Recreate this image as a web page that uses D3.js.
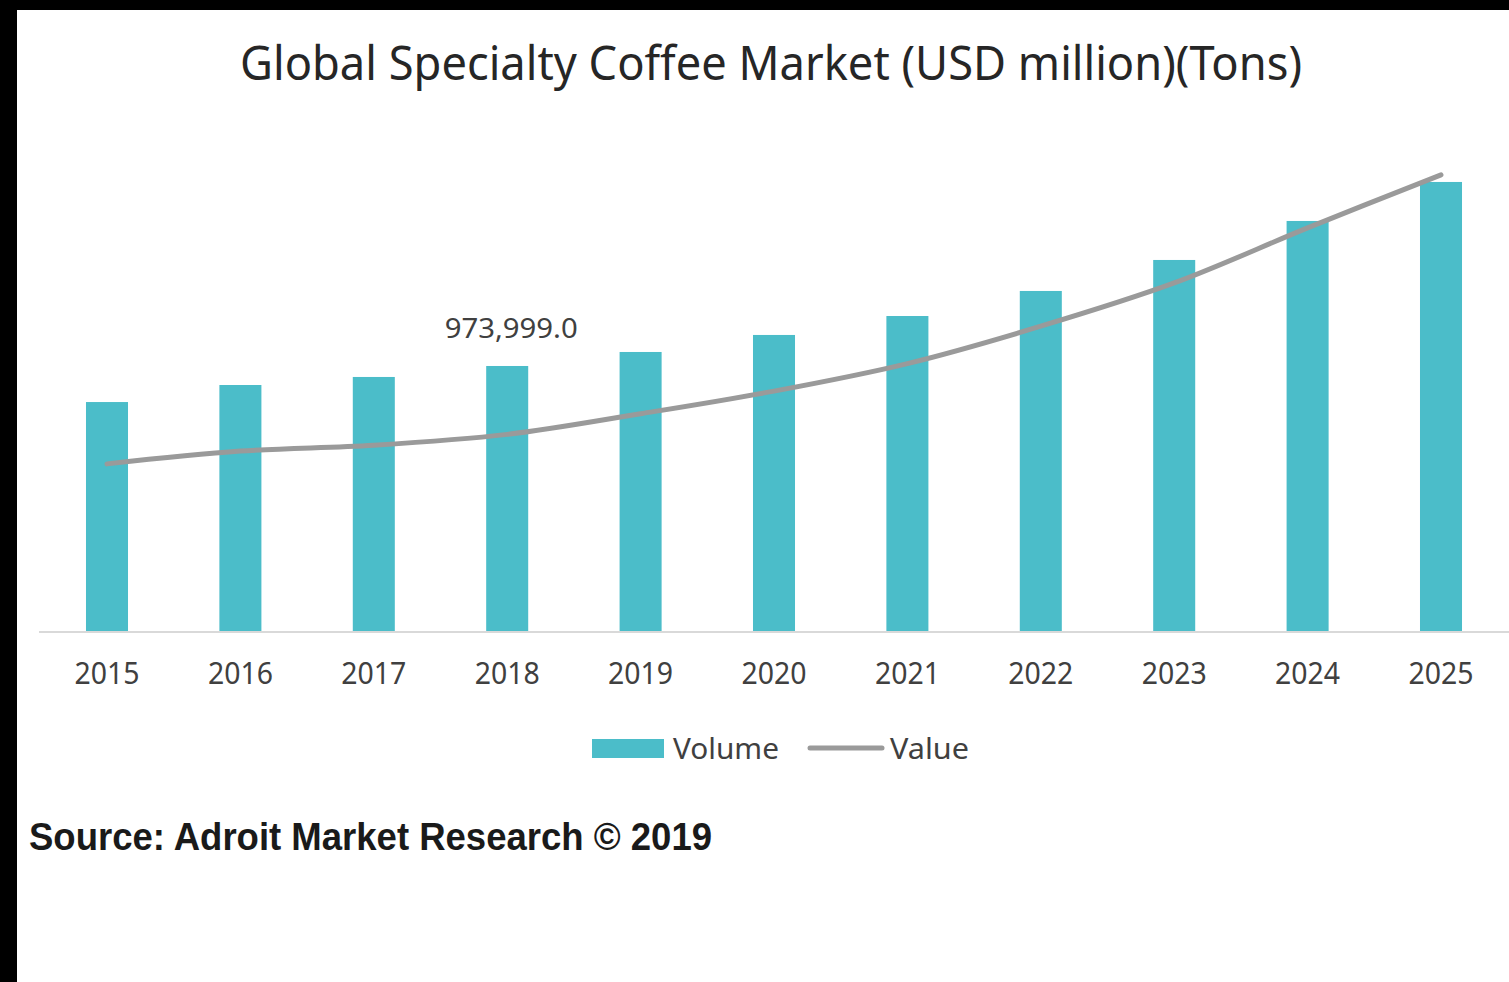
<!DOCTYPE html>
<html>
<head>
<meta charset="utf-8">
<script src="https://cdn.jsdelivr.net/npm/d3@7"></script>
<style>
    body { margin: 0; background: #000; }
    svg { display: block; }
</style>
</head>
<body>
<svg id="chart"></svg>
<script>
'use strict';

const years = ['2015', '2016', '2017', '2018', '2019', '2020', '2021', '2022', '2023', '2024', '2025'];
// Volume (Tons), bars
const volume = [842000, 904400, 933800, 973999, 1025300, 1087600, 1157000, 1248700, 1362200, 1505000, 1647800];
// Value (USD million), line
const value = [17100, 18400, 19000, 20100, 22200, 24500, 27300, 31100, 35500, 41100, 46500];
const labelled = '2018';

(function () {
    const width = 1509;
    const height = 982;
    const baseY = 632;
    const font = 'Noto Sans, sans-serif';

    const svg = d3.select('#chart')
        .attr('width', width)
        .attr('height', height);

    svg.append('rect')
        .attr('x', 17)
        .attr('y', 10)
        .attr('width', width - 17)
        .attr('height', height - 10)
        .attr('fill', '#fff');

    svg.append('text')
        .attr('x', 240)
        .attr('y', 80)
        .attr('font-family', font)
        .attr('font-size', 47)
        .attr('fill', '#262626')
        .attr('textLength', 1062)
        .attr('lengthAdjust', 'spacingAndGlyphs')
        .text('Global Specialty Coffee Market (USD million)(Tons)');

    const x = d3.scaleBand()
        .domain(years)
        .range([40.3, 1507.7])
        .paddingInner(0.685)
        .paddingOuter(0.3425);

    const yVol = d3.scaleLinear()
        .domain([0, 1800000])
        .range([baseY, 140.4]);

    const yVal = d3.scaleLinear()
        .domain([0, 50000])
        .range([baseY, 140.4]);

    const rows = years.map((yr, i) => ({year: yr, volume: volume[i], value: value[i]}));

    svg.append('g')
        .selectAll('rect')
        .data(rows)
        .join('rect')
        .attr('x', d => x(d.year))
        .attr('y', d => yVol(d.volume))
        .attr('width', x.bandwidth())
        .attr('height', d => baseY - yVol(d.volume))
        .attr('fill', '#4bbdc9');

    const axis = svg.append('g')
        .attr('transform', `translate(0, ${baseY})`)
        .call(d3.axisBottom(x)
            .tickSize(0)
            .tickPadding(31));

    axis.select('.domain')
        .attr('stroke', '#d9d9d9')
        .attr('stroke-width', 2)
        .attr('d', 'M39,0H1509');

    axis.selectAll('text')
        .attr('font-family', font)
        .attr('font-size', 30)
        .attr('fill', '#404040')
        .attr('textLength', 65)
        .attr('lengthAdjust', 'spacingAndGlyphs');

    const line = d3.line()
        .x(d => x(d.year) + x.bandwidth() / 2)
        .y(d => yVal(d.value))
        .curve(d3.curveCatmullRom.alpha(0.5));

    svg.append('path')
        .datum(rows)
        .attr('d', line)
        .attr('fill', 'none')
        .attr('stroke', '#9a9a9a')
        .attr('stroke-width', 5)
        .attr('stroke-linecap', 'round');

    const lab = rows.find(d => d.year === labelled);
    svg.append('text')
        .attr('x', x(lab.year) + x.bandwidth() / 2 + 4)
        .attr('y', yVol(lab.volume) - 28)
        .attr('text-anchor', 'middle')
        .attr('font-family', font)
        .attr('font-size', 27)
        .attr('fill', '#404040')
        .attr('textLength', 133)
        .attr('lengthAdjust', 'spacingAndGlyphs')
        .text(d3.format(',.1f')(lab.volume));

    // legend
    const legend = svg.append('g');
    legend.append('rect')
        .attr('x', 592)
        .attr('y', 739)
        .attr('width', 72)
        .attr('height', 19)
        .attr('fill', '#4bbdc9');
    legend.append('text')
        .attr('x', 673)
        .attr('y', 759)
        .attr('font-family', font)
        .attr('font-size', 29)
        .attr('fill', '#404040')
        .attr('textLength', 106)
        .attr('lengthAdjust', 'spacingAndGlyphs')
        .text('Volume');
    legend.append('line')
        .attr('x1', 810)
        .attr('x2', 882)
        .attr('y1', 748)
        .attr('y2', 748)
        .attr('stroke', '#9a9a9a')
        .attr('stroke-width', 5)
        .attr('stroke-linecap', 'round');
    legend.append('text')
        .attr('x', 890)
        .attr('y', 759)
        .attr('font-family', font)
        .attr('font-size', 29)
        .attr('fill', '#404040')
        .attr('textLength', 79)
        .attr('lengthAdjust', 'spacingAndGlyphs')
        .text('Value');

    svg.append('text')
        .attr('x', 29)
        .attr('y', 850)
        .attr('font-family', 'Liberation Sans, Arial, sans-serif')
        .attr('font-weight', 'bold')
        .attr('font-size', 39)
        .attr('fill', '#1a1a1a')
        .attr('textLength', 683)
        .attr('lengthAdjust', 'spacingAndGlyphs')
        .text('Source: Adroit Market Research \u00a9 2019');
})();
</script>
</body>
</html>
